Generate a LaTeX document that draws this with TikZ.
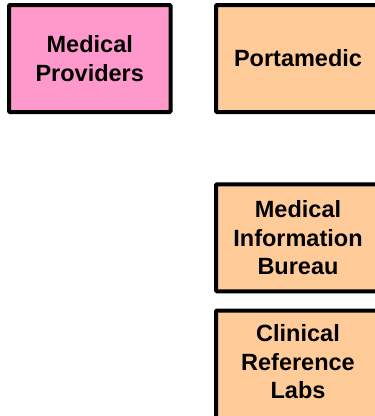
\documentclass[tikz,border=0pt]{standalone}
\usepackage{fontspec}
\setmainfont{Liberation Sans}
\definecolor{pinkfill}{HTML}{FF99CC}
\definecolor{orangefill}{HTML}{FFCC99}
\begin{document}
\begin{tikzpicture}[x=1pt,y=-1pt,
  box/.style={draw=black, line width=4pt, rounded corners=1pt, inner sep=0pt,
    minimum width=164pt, minimum height=107pt, align=center,
    font=\fontsize{23.5}{28.5}\selectfont\bfseries},
  boxtext/.style={inner sep=0pt, align=center,
    font=\fontsize{23.5}{28.5}\selectfont\bfseries}]
\useasboundingbox (0,0) rectangle (375,416);
\clip (0,0) rectangle (375,416);
\node[box, fill=pinkfill, minimum width=161.5pt] (mp) at (89.75,58.5) {Medical\\Providers};
\node[box, fill=orangefill] (pm) at (298,58.5) {Portamedic};
\node[box, fill=orangefill] (mib) at (298,237.75) {Medical\\Information\\Bureau};
\node[box, fill=orangefill, minimum height=125pt, anchor=north] (clr) at (298,308.5) {};
\node[boxtext] (clrtext) at (298,362) {Clinical\\Reference\\Labs};
\end{tikzpicture}
\end{document}
